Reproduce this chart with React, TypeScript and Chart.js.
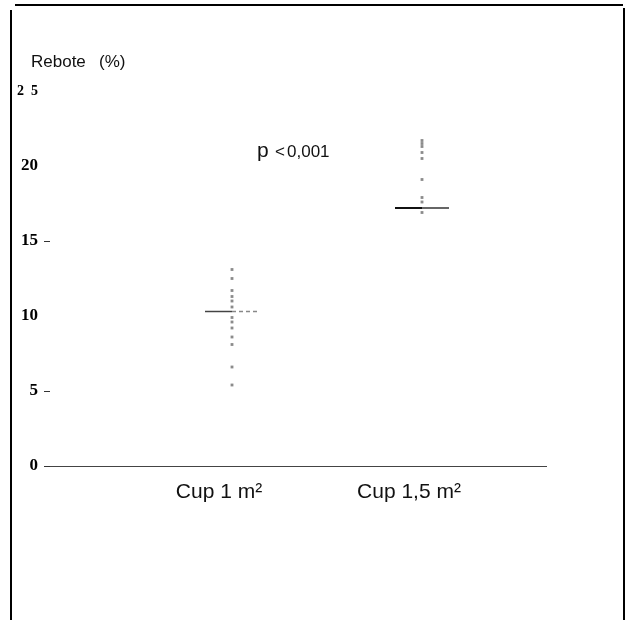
import React, { useEffect, useRef } from "react";
import { Chart, registerables } from "chart.js";

Chart.register(...registerables);

// ---- data ----
const CATEGORIES = ["Cup 1 m²", "Cup 1,5 m²"];
const CUP1_VALUES = [13.1, 12.5, 11.7, 11.3, 11.0, 10.6, 9.9, 9.6, 9.2, 8.6, 8.1, 6.6, 5.4];
const CUP15_VALUES = [21.7, 21.5, 21.3, 20.9, 20.5, 19.1, 17.9, 17.6, 16.9];
const MEANS = [10.3, 17.2];
const Y_TICKS = [0, 5, 10, 15, 20, 25];
const Y_TICK_LABELS = ["0", "5", "10", "15", "20", "2  5"];
const Y_TITLE = ["Rebote", "(%)"];
const P_TEXT = ["p", "<", "0,001"];

const MEAN_HALF = 0.142;

const framePlugin = {
  id: "frame",
  beforeDraw(chart: any) {
    const ctx = chart.ctx;
    ctx.save();
    ctx.fillStyle = "#fff";
    ctx.fillRect(0, 0, chart.width, chart.height);
    ctx.restore();
  },
  afterDraw(chart: any) {
    const ctx = chart.ctx;
    ctx.save();
    ctx.fillStyle = "#000";
    ctx.fillRect(15, 4, 608, 2);
    ctx.fillRect(10, 10, 2, 610);
    ctx.fillRect(623, 8, 2, 612);
    // y title
    ctx.fillStyle = "#111";
    ctx.font = "17px 'Liberation Sans', Arial, sans-serif";
    ctx.textBaseline = "alphabetic";
    ctx.fillText(Y_TITLE[0], 31, 67);
    ctx.fillText(Y_TITLE[1], 99, 67);
    // p value
    ctx.font = "21px 'Liberation Sans', Arial, sans-serif";
    ctx.fillText(P_TEXT[0], 257, 157);
    ctx.font = "17px 'Liberation Sans', Arial, sans-serif";
    ctx.fillText(P_TEXT[1], 275, 157);
    ctx.fillText(P_TEXT[2], 287, 157);
    ctx.restore();
  },
};

export default function App() {
  const ref = useRef<HTMLCanvasElement>(null);
  useEffect(() => {
    if (!ref.current) return;
    const meanLine = (i: number, dark: string, light: string, w: number, dashed: boolean) => ({
      type: "line" as const,
      data: [
        { x: i + 1 - MEAN_HALF, y: MEANS[i] },
        { x: i + 1, y: MEANS[i] },
        { x: i + 1 + MEAN_HALF, y: MEANS[i] },
      ],
      showLine: true,
      pointRadius: 0,
      borderWidth: w,
      borderColor: dark,
      segment: {
        borderColor: (c: any) => (c.p0DataIndex === 0 ? dark : light),
        borderDash: (c: any) => (c.p0DataIndex === 1 && dashed ? [4, 3] : []),
      },
    });
    const chart = new Chart(ref.current, {
      type: "scatter",
      data: {
        datasets: [
          {
            data: CUP1_VALUES.map((v) => ({ x: 1, y: v })),
            pointStyle: "rect",
            pointRadius: 2,
            backgroundColor: "rgba(90,90,90,0.7)",
            borderWidth: 0,
          },
          {
            data: CUP15_VALUES.map((v) => ({ x: 2, y: v })),
            pointStyle: "rect",
            pointRadius: 2,
            backgroundColor: "rgba(90,90,90,0.7)",
            borderWidth: 0,
          },
          meanLine(0, "#444", "#888", 1.5, true) as any,
          meanLine(1, "#111", "#666", 2, false) as any,
        ],
      },
      options: {
        responsive: false,
        animation: false,
        devicePixelRatio: 1,
        layout: { padding: { top: 91, right: 85, bottom: 114, left: 0 } },
        plugins: { legend: { display: false }, tooltip: { enabled: false } },
        scales: {
          x: {
            type: "linear",
            min: 0.0421,
            max: 2.6526,
            afterFit: (s: any) => {
              s.height = 40;
            },
            afterBuildTicks: (s: any) => {
              s.ticks = CATEGORIES.map((_, i) => ({ value: i + 1 }));
            },
            grid: { drawOnChartArea: false, drawTicks: false },
            border: { display: true, color: "#444", width: 1 },
            ticks: {
              padding: 14,
              labelOffset: -13,
              color: "#111",
              font: { family: "'Liberation Sans', Arial, sans-serif", size: 21 },
              callback: (v: any) => CATEGORIES[Math.round(Number(v)) - 1] ?? "",
            },
          },
          y: {
            min: 0,
            max: 25,
            afterFit: (s: any) => {
              s.width = 50;
            },
            afterBuildTicks: (s: any) => {
              s.ticks = Y_TICKS.map((v) => ({ value: v }));
            },
            grid: {
              drawOnChartArea: false,
              drawTicks: true,
              tickLength: 6,
              tickColor: (c: any) =>
                c.tick && [0, 5, 15].includes(c.tick.value) ? "#333" : "rgba(0,0,0,0)",
            },
            border: { display: false },
            ticks: {
              padding: 6,
              color: "#000",
              font: (c: any) => ({
                family: "'Liberation Serif', 'Times New Roman', serif",
                weight: "bold",
                size: c.tick && c.tick.value === 25 ? 14 : 17,
              }),
              callback: (v: any) => Y_TICK_LABELS[Y_TICKS.indexOf(Number(v))] ?? "",
            },
          },
        },
      },
      plugins: [framePlugin],
    });
    return () => chart.destroy();
  }, []);
  return (
    <div style={{ position: "fixed", left: 0, top: 0, width: 631, height: 620, background: "#fff" }}>
      <canvas ref={ref} width={631} height={620} style={{ display: "block", width: 631, height: 620 }} />
    </div>
  );
}
